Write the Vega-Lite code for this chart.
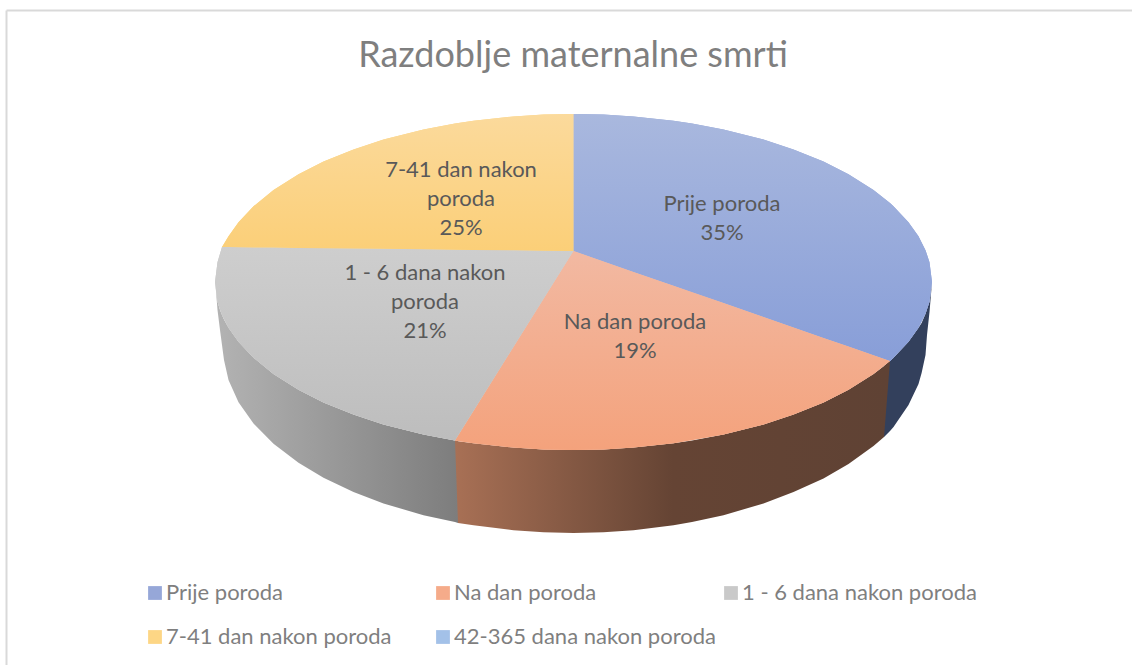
{"$schema":"https://vega.github.io/schema/vega-lite/v6.json","width":1132,"height":665,"padding":0,"autosize":"none","background":"white",
"title":{"text":"Razdoblje maternalne smrti","font":"Lato","fontSize":36,"fontWeight":"normal","color":"#7f7f7f","anchor":"middle","frame":"group","dx":7,"offset":-75,"limit":800},
"config":{"view":{"stroke":null}},
"data":{"values":[
{"part":"side","series":"navy","x":884,"y":366,"y2":437},{"part":"side","series":"navy","x":890,"y":361,"y2":431},{"part":"side","series":"navy","x":893.5,"y":357.7,"y2":427},{"part":"side","series":"navy","x":908.5,"y":341.8,"y2":405},{"part":"side","series":"navy","x":918.5,"y":327.7,"y2":384},{"part":"side","series":"navy","x":921.6,"y":323,"y2":373},{"part":"side","series":"navy","x":925.5,"y":313.8,"y2":355},{"part":"side","series":"navy","x":927,"y":309,"y2":335},{"part":"side","series":"navy","x":929.5,"y":301.8,"y2":312},{"part":"side","series":"navy","x":932,"y":282,"y2":282},
{"part":"side","series":"grey","x":215.5,"y":285,"y2":285},{"part":"side","series":"grey","x":217.5,"y":301.8,"y2":310},{"part":"side","series":"grey","x":220,"y":310,"y2":330},{"part":"side","series":"grey","x":222,"y":315,"y2":345},{"part":"side","series":"grey","x":224,"y":319.4,"y2":360},{"part":"side","series":"grey","x":228.5,"y":327.7,"y2":380},{"part":"side","series":"grey","x":238.5,"y":341.8,"y2":402.3},{"part":"side","series":"grey","x":253.5,"y":357.7,"y2":423.5},{"part":"side","series":"grey","x":273.5,"y":374,"y2":443.8},{"part":"side","series":"grey","x":298.5,"y":389.8,"y2":462.8},{"part":"side","series":"grey","x":323.5,"y":402.4,"y2":477.8},{"part":"side","series":"grey","x":353.5,"y":414.6,"y2":492.1},{"part":"side","series":"grey","x":383.5,"y":424.5,"y2":503.5},{"part":"side","series":"grey","x":423.5,"y":434.6,"y2":515.2},{"part":"side","series":"grey","x":455,"y":440.6,"y2":522},{"part":"side","series":"grey","x":458,"y":441.2,"y2":523},
{"part":"side","series":"brown","x":455,"y":440.6,"y2":440.6},{"part":"side","series":"brown","x":458,"y":441.2,"y2":523},{"part":"side","series":"brown","x":473.5,"y":443.3,"y2":525.3},{"part":"side","series":"brown","x":513.5,"y":447.6,"y2":530.3},{"part":"side","series":"brown","x":543.5,"y":449.4,"y2":532.3},{"part":"side","series":"brown","x":573.5,"y":450,"y2":533},{"part":"side","series":"brown","x":603.5,"y":449.4,"y2":532.3},{"part":"side","series":"brown","x":633.5,"y":447.6,"y2":530.3},{"part":"side","series":"brown","x":673.5,"y":443.3,"y2":525.3},{"part":"side","series":"brown","x":692,"y":440.6,"y2":522.1},{"part":"side","series":"brown","x":723.5,"y":434.6,"y2":515.2},{"part":"side","series":"brown","x":763.5,"y":424.5,"y2":503.5},{"part":"side","series":"brown","x":793.5,"y":414.6,"y2":492.1},{"part":"side","series":"brown","x":823.5,"y":402.4,"y2":478.5},{"part":"side","series":"brown","x":848.5,"y":389.8,"y2":464},{"part":"side","series":"brown","x":873.5,"y":374,"y2":446},{"part":"side","series":"brown","x":884,"y":366,"y2":437},{"part":"side","series":"brown","x":890,"y":361,"y2":361},
{"part":"top","series":"7-41 dan nakon poroda","x":222,"y":247,"y2":247},{"part":"top","series":"7-41 dan nakon poroda","x":228.5,"y":236.3,"y2":247.1},{"part":"top","series":"7-41 dan nakon poroda","x":238.5,"y":222.2,"y2":247.2},{"part":"top","series":"7-41 dan nakon poroda","x":253.5,"y":206.3,"y2":247.4},{"part":"top","series":"7-41 dan nakon poroda","x":273.5,"y":190,"y2":247.6},{"part":"top","series":"7-41 dan nakon poroda","x":298.5,"y":174.2,"y2":247.9},{"part":"top","series":"7-41 dan nakon poroda","x":323.5,"y":161.6,"y2":248.2},{"part":"top","series":"7-41 dan nakon poroda","x":353.5,"y":149.4,"y2":248.5},{"part":"top","series":"7-41 dan nakon poroda","x":383.5,"y":139.5,"y2":248.8},{"part":"top","series":"7-41 dan nakon poroda","x":423.5,"y":129.4,"y2":249.3},{"part":"top","series":"7-41 dan nakon poroda","x":455,"y":123.4,"y2":249.7},{"part":"top","series":"7-41 dan nakon poroda","x":473.5,"y":120.7,"y2":249.9},{"part":"top","series":"7-41 dan nakon poroda","x":513.5,"y":116.4,"y2":250.3},{"part":"top","series":"7-41 dan nakon poroda","x":543.5,"y":114.6,"y2":250.7},{"part":"top","series":"7-41 dan nakon poroda","x":573.5,"y":114,"y2":251},
{"part":"top","series":"1 - 6 dana nakon poroda","x":215,"y":282,"y2":282},{"part":"top","series":"1 - 6 dana nakon poroda","x":217.5,"y":262.2,"y2":301.8},{"part":"top","series":"1 - 6 dana nakon poroda","x":222,"y":247,"y2":315},{"part":"top","series":"1 - 6 dana nakon poroda","x":228.5,"y":247.1,"y2":327.7},{"part":"top","series":"1 - 6 dana nakon poroda","x":238.5,"y":247.2,"y2":341.8},{"part":"top","series":"1 - 6 dana nakon poroda","x":253.5,"y":247.4,"y2":357.7},{"part":"top","series":"1 - 6 dana nakon poroda","x":273.5,"y":247.6,"y2":374},{"part":"top","series":"1 - 6 dana nakon poroda","x":298.5,"y":247.9,"y2":389.8},{"part":"top","series":"1 - 6 dana nakon poroda","x":323.5,"y":248.2,"y2":402.4},{"part":"top","series":"1 - 6 dana nakon poroda","x":353.5,"y":248.5,"y2":414.6},{"part":"top","series":"1 - 6 dana nakon poroda","x":383.5,"y":248.8,"y2":424.5},{"part":"top","series":"1 - 6 dana nakon poroda","x":423.5,"y":249.3,"y2":434.6},{"part":"top","series":"1 - 6 dana nakon poroda","x":455,"y":249.7,"y2":440.6},{"part":"top","series":"1 - 6 dana nakon poroda","x":573.5,"y":251,"y2":251},
{"part":"top","series":"Na dan poroda","x":455,"y":440.6,"y2":440.6},{"part":"top","series":"Na dan poroda","x":473.5,"y":411,"y2":443.3},{"part":"top","series":"Na dan poroda","x":513.5,"y":347,"y2":447.6},{"part":"top","series":"Na dan poroda","x":543.5,"y":299,"y2":449.4},{"part":"top","series":"Na dan poroda","x":573.5,"y":251,"y2":450},{"part":"top","series":"Na dan poroda","x":603.5,"y":261.4,"y2":449.4},{"part":"top","series":"Na dan poroda","x":633.5,"y":271.9,"y2":447.6},{"part":"top","series":"Na dan poroda","x":673.5,"y":285.8,"y2":443.3},{"part":"top","series":"Na dan poroda","x":723.5,"y":303.1,"y2":434.6},{"part":"top","series":"Na dan poroda","x":763.5,"y":317,"y2":424.5},{"part":"top","series":"Na dan poroda","x":793.5,"y":327.5,"y2":414.6},{"part":"top","series":"Na dan poroda","x":823.5,"y":337.9,"y2":402.4},{"part":"top","series":"Na dan poroda","x":848.5,"y":346.6,"y2":389.8},{"part":"top","series":"Na dan poroda","x":873.5,"y":355.3,"y2":374},{"part":"top","series":"Na dan poroda","x":890,"y":361,"y2":361},
{"part":"top","series":"Prije poroda","x":573.5,"y":114,"y2":251},{"part":"top","series":"Prije poroda","x":603.5,"y":114.6,"y2":261.4},{"part":"top","series":"Prije poroda","x":633.5,"y":116.4,"y2":271.9},{"part":"top","series":"Prije poroda","x":673.5,"y":120.7,"y2":285.8},{"part":"top","series":"Prije poroda","x":692,"y":123.4,"y2":292.2},{"part":"top","series":"Prije poroda","x":723.5,"y":129.4,"y2":303.1},{"part":"top","series":"Prije poroda","x":763.5,"y":139.5,"y2":317},{"part":"top","series":"Prije poroda","x":793.5,"y":149.4,"y2":327.5},{"part":"top","series":"Prije poroda","x":823.5,"y":161.6,"y2":337.9},{"part":"top","series":"Prije poroda","x":848.5,"y":174.2,"y2":346.6},{"part":"top","series":"Prije poroda","x":873.5,"y":190,"y2":355.3},{"part":"top","series":"Prije poroda","x":890,"y":203.1,"y2":361},{"part":"top","series":"Prije poroda","x":893.5,"y":206.3,"y2":357.7},{"part":"top","series":"Prije poroda","x":908.5,"y":222.2,"y2":341.8},{"part":"top","series":"Prije poroda","x":918.5,"y":236.3,"y2":327.7},{"part":"top","series":"Prije poroda","x":925.5,"y":250.2,"y2":313.8},{"part":"top","series":"Prije poroda","x":929.5,"y":262.2,"y2":301.8},{"part":"top","series":"Prije poroda","x":932,"y":282,"y2":282}
]},
"encoding":{
"x":{"field":"x","type":"quantitative","scale":{"domain":[0,1132],"nice":false,"zero":false},"axis":null},
"y":{"field":"y","type":"quantitative","scale":{"domain":[665,0],"nice":false,"zero":false},"axis":null}
},
"layer":[
{"data":{"values":[{"x":6.5,"x2":1132,"y":10.5,"y2":10.5},{"x":6.5,"x2":6.5,"y":10.5,"y2":665}]},"mark":{"type":"rule","color":"#d9d9d9","strokeWidth":2},"encoding":{"x2":{"field":"x2"},"y2":{"field":"y2"}}},
{"transform":[{"filter":"datum.series==='navy'"}],"mark":{"type":"area","color":"#33405c"},"encoding":{"y2":{"field":"y2"}}},
{"transform":[{"filter":"datum.series==='grey'"}],"mark":{"type":"area","color":{"gradient":"linear","x1":0,"y1":0,"x2":1,"y2":0,"stops":[{"offset":0,"color":"#b3b3b3"},{"offset":1,"color":"#7d7d7d"}]}},"encoding":{"y2":{"field":"y2"}}},
{"transform":[{"filter":"datum.series==='brown'"}],"mark":{"type":"area","color":{"gradient":"linear","x1":0,"y1":0,"x2":1,"y2":0,"stops":[{"offset":0,"color":"#a87055"},{"offset":0.5,"color":"#654434"},{"offset":1,"color":"#5f4234"}]}},"encoding":{"y2":{"field":"y2"}}},
{"transform":[{"filter":"datum.part==='top'"}],"mark":{"type":"area"},"encoding":{"y2":{"field":"y2"},"color":{"field":"series","type":"nominal","scale":{"domain":["Prije poroda","Na dan poroda","1 - 6 dana nakon poroda","7-41 dan nakon poroda","42-365 dana nakon poroda"],"range":["#96a7d8","#f5ab8a","#c9c9c9","#fdd685","#a3c1e8"]},"legend":{"title":null,"orient":"none","direction":"horizontal","legendX":144,"legendY":582,"columns":3,"gridAlign":"all","columnPadding":4,"rowPadding":22,"symbolType":"square","symbolSize":190,"symbolStrokeWidth":0,"labelFont":"Lato","labelFontSize":22,"labelColor":"#7f7f7f","labelLimit":400,"labelOffset":0}}}},
{"transform":[{"filter":"datum.part==='top' && datum.series==='Prije poroda'"}],"mark":{"type":"area","color":{"gradient":"linear","x1":0,"y1":0,"x2":0,"y2":1,"stops":[{"offset":0,"color":"#a9b8de"},{"offset":1,"color":"#889ed8"}]}},"encoding":{"y2":{"field":"y2"}}},
{"transform":[{"filter":"datum.part==='top' && datum.series==='Na dan poroda'"}],"mark":{"type":"area","color":{"gradient":"linear","x1":0,"y1":0,"x2":0,"y2":1,"stops":[{"offset":0,"color":"#f2b9a2"},{"offset":1,"color":"#f4a27c"}]}},"encoding":{"y2":{"field":"y2"}}},
{"transform":[{"filter":"datum.part==='top' && datum.series==='1 - 6 dana nakon poroda'"}],"mark":{"type":"area","color":{"gradient":"linear","x1":0,"y1":0,"x2":0,"y2":1,"stops":[{"offset":0,"color":"#cecece"},{"offset":1,"color":"#bdbdbd"}]}},"encoding":{"y2":{"field":"y2"}}},
{"transform":[{"filter":"datum.part==='top' && datum.series==='7-41 dan nakon poroda'"}],"mark":{"type":"area","color":{"gradient":"linear","x1":0,"y1":0,"x2":0,"y2":1,"stops":[{"offset":0,"color":"#fbda9c"},{"offset":1,"color":"#fbcf78"}]}},"encoding":{"y2":{"field":"y2"}}},
{"data":{"values":[{"label":"Prije poroda\n35%","share":35,"x":722,"y":204},{"label":"Na dan poroda\n19%","share":19,"x":635,"y":322},{"label":"1 - 6 dana nakon\nporoda\n21%","share":21,"x":425,"y":273},{"label":"7-41 dan nakon\nporoda\n25%","share":25,"x":461,"y":170}]},"mark":{"type":"text","font":"Lato","fontSize":22,"color":"#595959","lineBreak":"\n","lineHeight":29,"align":"center","baseline":"middle"},"encoding":{"text":{"field":"label"}}}
]}
